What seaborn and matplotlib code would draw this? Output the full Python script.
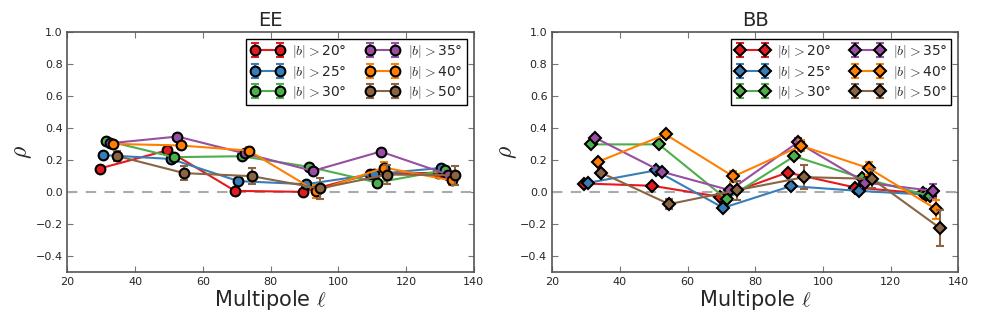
import numpy as np
import matplotlib
matplotlib.use("Agg")
import matplotlib.pyplot as plt
import seaborn as sns

# multipole bins and small horizontal shift per latitude cut
ell_bins = [30, 50, 70, 90, 110, 130]
shifts = [-0.5, 0.5, 1.5, 2.5, 3.5, 4.5]
cortes = ["20", "25", "30", "35", "40", "50"]

# EE correlation
ee_b20 = [0.146, 0.26, 0.006, 0.0, 0.11, 0.12]
ee_b25 = [0.23, 0.206, 0.067, 0.048, 0.11, 0.15]
ee_b30 = [0.32, 0.217, 0.223, 0.156, 0.058, 0.135]
ee_b35 = [0.304, 0.346, 0.24, 0.131, 0.252, 0.108]
ee_b40 = [0.30, 0.29, 0.258, 0.004, 0.152, 0.071]
ee_b50 = [0.225, 0.117, 0.098, 0.021, 0.108, 0.104]
ee_err20 = [0.01, 0.01, 0.01, 0.01, 0.01, 0.01]
ee_err25 = [0.01, 0.01, 0.01, 0.01, 0.01, 0.01]
ee_err30 = [0.01, 0.01, 0.01, 0.01, 0.01, 0.015]
ee_err35 = [0.01, 0.015, 0.015, 0.015, 0.015, 0.02]
ee_err40 = [0.015, 0.02, 0.02, 0.04, 0.035, 0.03]
ee_err50 = [0.03, 0.045, 0.05, 0.068, 0.06, 0.06]

# BB correlation
bb_b20 = [0.052, 0.038, -0.031, 0.121, 0.027, -0.01]
bb_b25 = [0.056, 0.134, -0.10, 0.036, 0.006, -0.017]
bb_b30 = [0.297, 0.297, -0.046, 0.223, 0.086, -0.025]
bb_b35 = [0.34, 0.125, 0.01, 0.309, 0.058, 0.006]
bb_b40 = [0.188, 0.359, 0.096, 0.288, 0.148, -0.109]
bb_b50 = [0.119, -0.077, 0.010, 0.092, 0.081, -0.226]
bb_err20 = [0.01, 0.01, 0.01, 0.01, 0.01, 0.015]
bb_err25 = [0.01, 0.01, 0.01, 0.01, 0.01, 0.015]
bb_err30 = [0.01, 0.01, 0.015, 0.015, 0.015, 0.02]
bb_err35 = [0.015, 0.015, 0.02, 0.03, 0.025, 0.045]
bb_err40 = [0.015, 0.02, 0.035, 0.035, 0.04, 0.06]
bb_err50 = [0.02, 0.03, 0.06, 0.073, 0.06, 0.115]

ee = [ee_b20, ee_b25, ee_b30, ee_b35, ee_b40, ee_b50]
ee_err = [ee_err20, ee_err25, ee_err30, ee_err35, ee_err40, ee_err50]
bb = [bb_b20, bb_b25, bb_b30, bb_b35, bb_b40, bb_b50]
bb_err = [bb_err20, bb_err25, bb_err30, bb_err35, bb_err40, bb_err50]

sns.set_style("ticks")
set1 = sns.color_palette("Set1", 9)
colores = [set1[0], set1[1], set1[2], set1[3], set1[4], '#8b6443']
plt.rcParams['font.family'] = ['DejaVu Sans']
plt.rcParams['mathtext.fontset'] = 'cm'

fig = plt.figure(figsize=(9.81, 3.27), dpi=100)
ax1 = fig.add_axes([0.0688, 0.169, 0.414, 0.733])
ax2 = fig.add_axes([0.563, 0.169, 0.414, 0.733])

for ax, datos, errores, marca, titulo in [(ax1, ee, ee_err, 'o', 'EE'),
                                          (ax2, bb, bb_err, 'D', 'BB')]:
    ax.axhline(0, color='#aaaaaa', ls='--', lw=1.5, dashes=(5, 4), zorder=1)
    for i in range(6):
        x = np.array(ell_bins) + shifts[i]
        ax.errorbar(x, datos[i], yerr=errores[i], color=colores[i], lw=1.5,
                    marker=marca, ms=7 if marca == 'o' else 6.5, mfc=colores[i],
                    mec='black', mew=1.5, capsize=3, elinewidth=1.5,
                    ecolor=colores[i], label=r"$|b|>$" + cortes[i] + "°",
                    zorder=3 + i)
    ax.set_xlim(20, 140)
    ax.set_ylim(-0.5, 1.0)
    ax.set_xticks([20, 40, 60, 80, 100, 120, 140])
    ax.set_yticks([-0.4, -0.2, 0.0, 0.2, 0.4, 0.6, 0.8, 1.0])
    ax.set_yticklabels(['\u22120.4', '\u22120.2', '0.0', '0.2', '0.4', '0.6', '0.8', '1.0'])
    ax.tick_params(direction='in', top=True, right=True, length=4,
                   labelsize=8, color='#777777')
    for sp in ax.spines.values():
        sp.set_color('#555555')
        sp.set_linewidth(1.2)
    ax.set_title(titulo, fontsize=14, pad=4)
    ax.set_xlabel(r"Multipole $\ell$", fontsize=15, labelpad=1)
    ax.set_ylabel(r"$\rho$", fontsize=17, labelpad=1)
    leg = ax.legend(loc='upper right', ncol=2, numpoints=2, fontsize=10,
                    fancybox=False, framealpha=1, edgecolor='black',
                    handlelength=2.4, columnspacing=1.4, labelspacing=0.25,
                    borderpad=0.3, handletextpad=0.6)
    leg.get_frame().set_linewidth(1.0)

plt.savefig("out.png", dpi=100)
